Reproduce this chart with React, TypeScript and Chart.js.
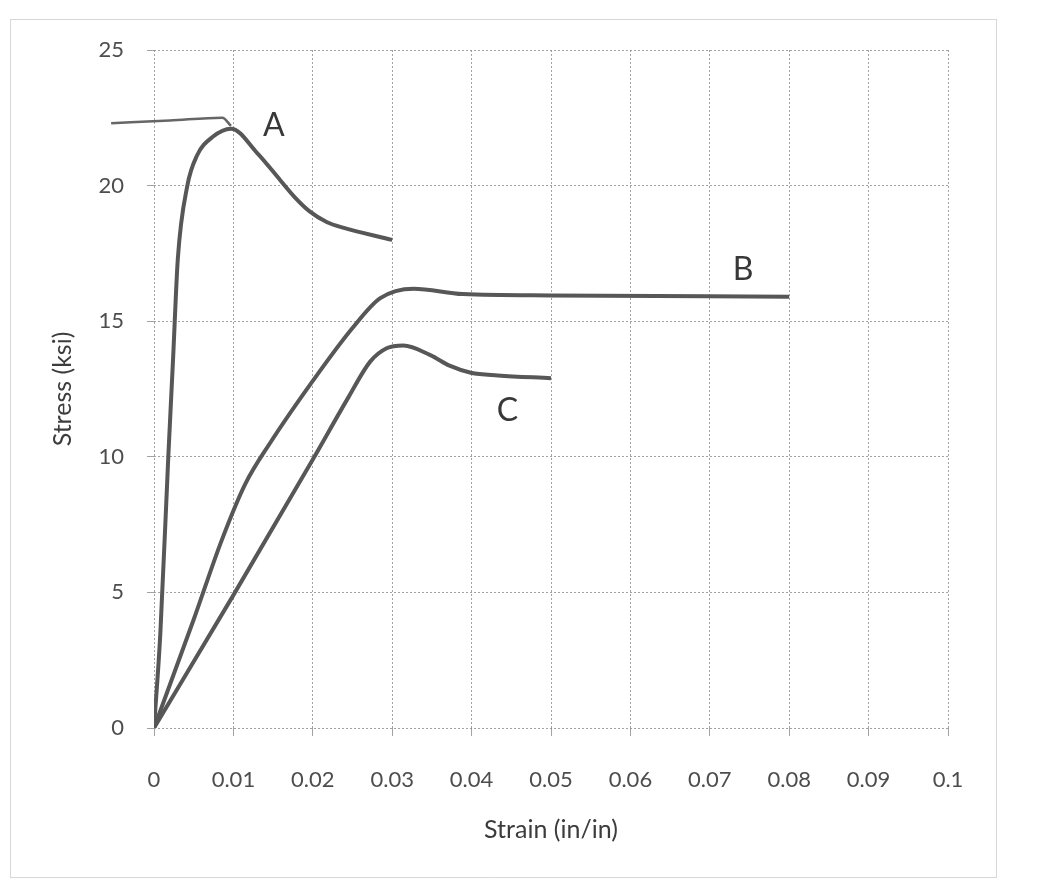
import React, { useEffect, useRef } from 'react';
import { Chart, registerables } from 'chart.js';

Chart.register(...registerables);

// strain (in/in) and stress (ksi)
const strainA = [0, 0.0008, 0.0018, 0.0024, 0.003, 0.0042, 0.0054, 0.0074, 0.0097, 0.013, 0.0159, 0.0178, 0.0196, 0.0218, 0.0238, 0.03];
const stressA = [0, 3.5, 10.0, 13.6, 17.3, 20.0, 21.1, 21.8, 22.1, 21.2, 20.2, 19.55, 19.05, 18.65, 18.45, 18.0];

const strainB = [0, 0.005, 0.0085, 0.0115, 0.0146, 0.02, 0.025, 0.0285, 0.0327, 0.0389, 0.05, 0.08];
const stressB = [0, 4.0, 6.9, 9.0, 10.5, 12.8, 14.75, 15.85, 16.2, 16.0, 15.95, 15.9];

const strainC = [0, 0.01, 0.02, 0.0245, 0.0272, 0.0293, 0.0314, 0.0348, 0.0373, 0.0399, 0.0433, 0.05];
const stressC = [0, 4.9, 9.9, 12.2, 13.5, 14.0, 14.1, 13.75, 13.35, 13.1, 13.0, 12.9];

// thin hand-drawn stroke above the peak of A
const strainTop = [-0.0054, 0.002, 0.0086, 0.0097];
const stressTop = [22.3, 22.4, 22.5, 22.2];

const curveNames = ['A', 'B', 'C'];
const nameX = [0.0151, 0.0742, 0.0445];
const nameY = [22.2, 16.9, 11.7];

const xTicks = ['0', '0.01', '0.02', '0.03', '0.04', '0.05', '0.06', '0.07', '0.08', '0.09', '0.1'];
const yTicks = ['0', '5', '10', '15', '20', '25'];

const toPoints = (xs: number[], ys: number[]) => xs.map((x, i) => ({ x, y: ys[i] }));

const LINE = '#575757';
const GRID = 'rgba(140,140,140,0.8)';

const extras = {
  id: 'extras',
  beforeDraw(chart: any) {
    const ctx = chart.ctx;
    ctx.save();
    ctx.strokeStyle = '#b0b0b0';
    ctx.lineWidth = 1;
    ctx.setLineDash([1, 1]);
    ctx.strokeRect(10.5, 19.5, 986, 858);
    ctx.restore();
  },
  afterDatasetsDraw(chart: any) {
    const { ctx, scales } = chart;
    ctx.save();
    ctx.fillStyle = '#383838';
    ctx.font = '32px Lato';
    ctx.textAlign = 'center';
    ctx.textBaseline = 'middle';
    curveNames.forEach((n, i) => {
      ctx.fillText(n, scales.x.getPixelForValue(nameX[i]), scales.y.getPixelForValue(nameY[i]));
    });
    ctx.restore();
  },
};

const App: React.FC = () => {
  const canvasRef = useRef<HTMLCanvasElement | null>(null);

  useEffect(() => {
    document.body.style.margin = '0';
    if (!canvasRef.current) return;
    Chart.defaults.font.family = 'Lato';

    const common = {
      showLine: true,
      pointRadius: 0,
      borderColor: LINE,
      borderWidth: 4,
      cubicInterpolationMode: 'monotone' as const,
      fill: false,
    };

    const chart = new Chart(canvasRef.current, {
      type: 'scatter',
      data: {
        datasets: [
          { label: 'A', data: toPoints(strainA, stressA), ...common },
          { label: 'B', data: toPoints(strainB, stressB), ...common },
          { label: 'C', data: toPoints(strainC, stressC), ...common },
          {
            label: 'A top',
            data: toPoints(strainTop, stressTop),
            ...common,
            borderWidth: 2.5,
            borderColor: '#666',
            clip: false as any,
          },
        ],
      },
      options: {
        responsive: false,
        animation: false,
        layout: { padding: { top: 50, right: 93, bottom: 0, left: 0 } },
        plugins: {
          legend: { display: false },
          tooltip: { enabled: false },
        },
        scales: {
          x: {
            type: 'linear',
            min: 0,
            max: 0.1,
            afterFit: (s: any) => {
              s.height = 161;
            },
            ticks: {
              stepSize: 0.01,
              autoSkip: false,
              maxRotation: 0,
              padding: 31,
              color: '#4d4d4d',
              font: { size: 22 },
              callback: (_v: any, i: number) => xTicks[i],
            },
            grid: { color: GRID, lineWidth: 1, tickLength: 8 },
            border: { display: false, dash: [2, 2] },
            title: {
              display: true,
              text: 'Strain (in/in)',
              color: '#3c3c3c',
              font: { size: 25 },
              padding: { top: 0, bottom: 44 },
            },
          },
          y: {
            min: 0,
            max: 25,
            afterFit: (s: any) => {
              s.width = 154;
            },
            ticks: {
              stepSize: 5,
              padding: 23,
              color: '#4d4d4d',
              font: { size: 22 },
              callback: (_v: any, i: number) => yTicks[i],
            },
            grid: { color: GRID, lineWidth: 1, tickLength: 7 },
            border: { display: false, dash: [2, 2] },
            title: {
              display: true,
              text: 'Stress (ksi)',
              color: '#3c3c3c',
              font: { size: 25 },
              padding: { top: 48, bottom: 0 },
            },
          },
        },
      },
      plugins: [extras],
    });

    return () => {
      chart.destroy();
    };
  }, []);

  return <canvas ref={canvasRef} width={1041} height={889} style={{ display: 'block' }}></canvas>;
};

export default App;
